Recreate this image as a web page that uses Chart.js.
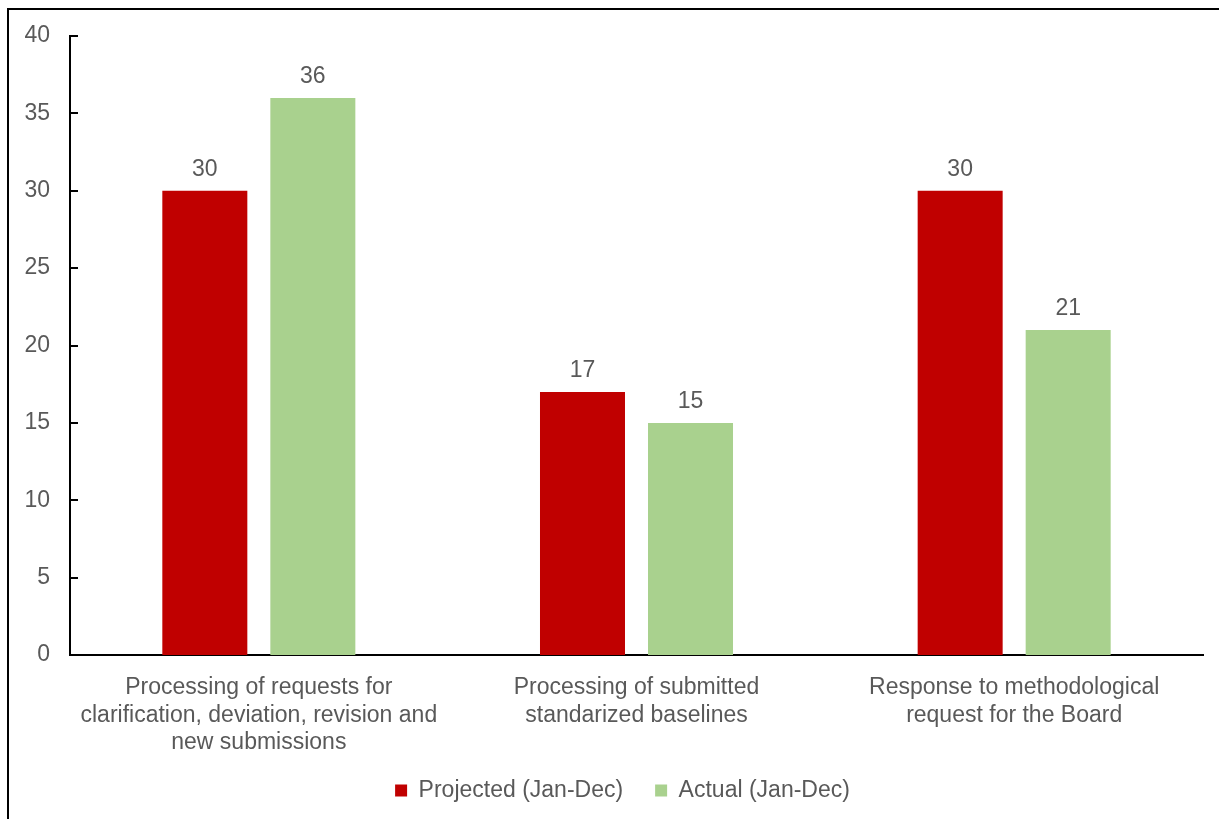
<!DOCTYPE html>
<html>
<head>
<meta charset="utf-8">
<script src="https://cdn.jsdelivr.net/npm/chart.js@4/dist/chart.umd.min.js"></script>
<style>
  html, body { margin: 0; padding: 0; background: #fff; }
  #wrap { position: relative; width: 1219px; height: 819px; overflow: hidden; }
  #frame { position: absolute; left: 7px; top: 8px; right: -10px; bottom: -10px;
           border-top: 2px solid #000; border-left: 2px solid #000; pointer-events: none; }
  canvas { position: absolute; left: 0; top: 0; }
</style>
</head>
<body>
<div id="wrap">
  <canvas id="c" width="1219" height="819"></canvas>
  <div id="frame"></div>
</div>
<script>
const categories = [
  ["Processing of requests for", "clarification, deviation, revision and", "new submissions"],
  ["Processing of submitted", "standarized baselines"],
  ["Response to methodological", "request for the Board"]
];
const projected = [30, 17, 30];
const actual = [36, 15, 21];
const seriesNames = ["Projected (Jan-Dec)", "Actual (Jan-Dec)"];
const yMin = 0, yMax = 40, yStep = 5;

const textColor = '#595959';
const fontFamily = '"Liberation Sans", Arial, sans-serif';
const fontSize = 23;

const innerTicks = {
  id: 'innerTicks',
  afterDatasetsDraw(chart) {
    const y = chart.scales.y;
    const ctx = chart.ctx;
    ctx.save();
    ctx.strokeStyle = '#000';
    ctx.lineWidth = 2;
    y.ticks.forEach(t => {
      const py = Math.round(y.getPixelForValue(t.value));
      ctx.beginPath();
      ctx.moveTo(chart.chartArea.left, py);
      ctx.lineTo(chart.chartArea.left + 8, py);
      ctx.stroke();
    });
    ctx.restore();
  }
};

const valueLabels = {
  id: 'valueLabels',
  afterDatasetsDraw(chart) {
    const ctx = chart.ctx;
    ctx.save();
    ctx.fillStyle = textColor;
    ctx.font = fontSize + 'px ' + fontFamily;
    ctx.textAlign = 'center';
    ctx.textBaseline = 'bottom';
    chart.data.datasets.forEach((ds, i) => {
      chart.getDatasetMeta(i).data.forEach((bar, j) => {
        ctx.fillText(String(ds.data[j]), bar.x, bar.y - 10);
      });
    });
    ctx.restore();
  }
};

const legendShift = {
  id: 'legendShift',
  afterLayout(chart) {
    const lg = chart.legend;
    if (!lg) return;
    lg.left += 21; lg.right += 21;
    lg.top -= 3; lg.bottom -= 3;
  }
};

new Chart(document.getElementById('c'), {
  type: 'bar',
  data: {
    labels: categories,
    datasets: [
      { label: seriesNames[0], data: projected, backgroundColor: '#C00000' },
      { label: seriesNames[1], data: actual, backgroundColor: '#A9D18E' }
    ]
  },
  options: {
    responsive: false,
    animation: false,
    devicePixelRatio: 1,
    layout: { padding: { left: 0, right: 16, top: 36, bottom: 4 } },
    datasets: { bar: { categoryPercentage: 0.572, barPercentage: 0.787 } },
    scales: {
      x: {
        grid: { display: false, drawTicks: false },
        border: { display: true, color: '#000', width: 2 },
        ticks: { color: textColor, font: { size: fontSize, family: fontFamily }, padding: 19, maxRotation: 0, autoSkip: false },
        afterFit(scale) { scale.height = 95; }
      },
      y: {
        min: yMin, max: yMax,
        grid: { display: false, drawTicks: false },
        border: { display: true, color: '#000', width: 2 },
        ticks: { stepSize: yStep, color: textColor, font: { size: fontSize, family: fontFamily }, padding: 20 },
        afterFit(scale) { scale.width = 70; }
      }
    },
    plugins: {
      legend: {
        position: 'bottom',
        labels: { color: textColor, font: { size: fontSize, family: fontFamily }, boxWidth: 12, boxHeight: 12, padding: 32 }
      },
      tooltip: { enabled: false }
    }
  },
  plugins: [innerTicks, valueLabels, legendShift]
});
</script>
</body>
</html>
